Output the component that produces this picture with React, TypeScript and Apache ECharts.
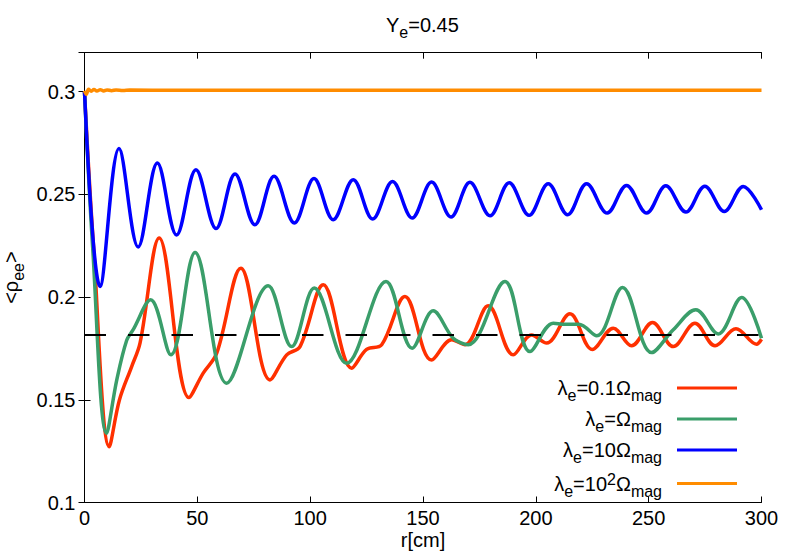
import React, { useEffect, useRef } from 'react';
import * as echarts from 'echarts';

// r [cm], <rho_ee>
const redData: number[][] = [
  [0, 0.3], [4, 0.225], [11, 0.1272], [15.5, 0.15], [20.9, 0.1662], [24.6, 0.1776],
  [33.1, 0.2288], [46.3, 0.1511], [52.6, 0.163], [58.6, 0.1727], [69.3, 0.2141], [82.2, 0.1597],
  [89.6, 0.1719], [95.5, 0.1759], [105.8, 0.206], [118.4, 0.1654], [125, 0.1745], [131.7, 0.1768],
  [142.0, 0.2003], [153.8, 0.1694], [162.7, 0.1792], [168.6, 0.1768], [178.9, 0.1958], [190.0, 0.1719],
  [198.1, 0.1816], [204.8, 0.1776], [215.1, 0.1919], [225.0, 0.1745], [234.3, 0.1849], [242.4, 0.1763],
  [251.7, 0.1876], [260.9, 0.1759], [270.5, 0.1873], [279.4, 0.1763], [288.7, 0.1846], [297.8, 0.1771],
  [300, 0.1795],
];
const greenData: number[][] = [
  [0, 0.3], [3.6, 0.2245], [9.8, 0.1337], [14.3, 0.1597], [18.7, 0.179], [21.5, 0.184], [29.3, 0.1987],
  [38.3, 0.1719], [49.0, 0.2217], [63.0, 0.1581], [81.4, 0.2055], [91.8, 0.1759], [101.8, 0.2044],
  [116.2, 0.1678], [133.6, 0.2076], [145.2, 0.1751], [154.5, 0.1933], [163.4, 0.18], [170.0, 0.1768],
  [186.3, 0.2076], [197.4, 0.1735], [207.7, 0.1873], [213, 0.1868], [219, 0.1868], [227, 0.1812],
  [238.4, 0.2047], [251.3, 0.173], [260.9, 0.1841], [270.9, 0.1938], [280.8, 0.1821], [291.2, 0.1998],
  [300, 0.18],
];
const blueData: number[][] = [
  [0, 0.3], [6.9, 0.2052], [15.3, 0.2723], [23.8, 0.2244], [32.3, 0.2653], [40.8, 0.2302], [49.4, 0.262],
  [58.3, 0.2334], [66.7, 0.26], [75.5, 0.2352], [84.0, 0.2588], [93.0, 0.2361], [101.7, 0.2577],
  [110.2, 0.2377], [119.1, 0.2572], [127.7, 0.238], [136.5, 0.2563], [145.2, 0.2385], [153.8, 0.256],
  [162.4, 0.239], [170.8, 0.2559], [179.7, 0.2396], [188.2, 0.2557], [197.0, 0.2398], [205.5, 0.2552],
  [214.1, 0.2401], [222.5, 0.2552], [231.6, 0.2409], [240.2, 0.2544], [249.1, 0.2409], [257.6, 0.2542],
  [266.5, 0.2414], [274.9, 0.254], [283.5, 0.2417], [291.9, 0.2539], [300, 0.2425],
];
const orangeData: number[][] = [
  [0, 0.3005], [0.8, 0.2988], [1.8, 0.3012], [3, 0.3002], [4.2, 0.3011], [5.5, 0.3003], [7, 0.301],
  [8.5, 0.3004], [10, 0.3009], [12, 0.3005], [14, 0.3009], [17, 0.3006], [20, 0.3008],
  [40, 0.3007], [300, 0.3007],
];
const refLevel = 0.1815;
const refData: number[][] = [[0, refLevel], [300, refLevel]];

const seriesNames = ['lam01', 'lam1', 'lam10', 'lam100'];
const legendLabels: Record<string, string> = {
  lam01: '{n|λ}{s|e}{n|=0.1Ω}{s|mag}',
  lam1: '{n|λ}{s|e}{n|=Ω}{s|mag}',
  lam10: '{n|λ}{s|e}{n|=10Ω}{s|mag}',
  lam100: '{n|λ}{s|e}{n|=10}{p|2}{n|Ω}{s|mag}',
};
const seriesColors = ['#ff3000', '#3a9e6a', '#0000ff', '#ff8c00'];

const xMin = 0, xMax = 300, xInterval = 50;
const yMin = 0.1, yMax = 0.319, yInterval = 0.05;

const FONT = 'Liberation Sans, Arial, Helvetica, sans-serif';

const rich = {
  n: { fontSize: 20, fontFamily: FONT, color: '#000' },
  s: { fontSize: 16, fontFamily: FONT, color: '#000', padding: [15, 0, 0, 0] },
  p: { fontSize: 16, fontFamily: FONT, color: '#000', padding: [0, 0, 9, 0] },
};

export default function App() {
  const ref = useRef<HTMLDivElement>(null);
  useEffect(() => {
    if (!ref.current) return;
    const chart = echarts.init(ref.current, undefined, { renderer: 'svg' });
    const yLabel = (v: number) => {
      const k = v / yInterval;
      return Math.abs(k - Math.round(k)) < 1e-6 ? String(+v.toFixed(2)) : '';
    };
    const axisLine = { show: true, lineStyle: { color: '#000', width: 1 } };
    const axisTick = { show: true, inside: true, length: 6, lineStyle: { color: '#000' } };
    const labelStyle = { fontSize: 20, fontFamily: FONT, color: '#000', lineHeight: 20 };
    const mk = (data: number[][], i: number) => ({
      type: 'line',
      name: seriesNames[i],
      data,
      smooth: 0.36,
      symbol: 'none',
      showSymbol: false,
      lineStyle: { color: seriesColors[i], width: 3.5 },
      itemStyle: { color: seriesColors[i] },
      xAxisIndex: 0,
      yAxisIndex: 0,
      z: 2 + i,
    });
    chart.setOption({
      animation: false,
      backgroundColor: '#fff',
      title: {
        text: '{n|Y}{s|e}{n|=0.45}',
        left: 381,
        top: 4,
        textStyle: { rich, fontWeight: 'normal' },
      },
      grid: {
        left: 84.5, right: 27.5, top: 52.7, bottom: 49.5,
        containLabel: false, outerBoundsMode: 'none',
      },
      xAxis: [
        {
          type: 'value', min: xMin, max: xMax, interval: xInterval, position: 'bottom',
          axisLine, axisTick, splitLine: { show: false },
          axisLabel: { ...labelStyle, margin: 5 },
          name: 'r[cm]', nameLocation: 'middle', nameGap: 27, nameMoveOverlap: false,
          nameTextStyle: { ...labelStyle },
        },
        {
          type: 'value', min: xMin, max: xMax, interval: xInterval, position: 'top',
          axisLine, axisTick, splitLine: { show: false }, axisLabel: { show: false },
        },
      ],
      yAxis: [
        {
          type: 'value', min: yMin, max: yMax, interval: yInterval, position: 'left',
          axisLine, axisTick, splitLine: { show: false },
          axisLabel: { ...labelStyle, margin: 9, formatter: yLabel },
          name: '{n|<ρ}{s|ee}{n|>}', nameLocation: 'middle', nameGap: 58, nameRotate: 90,
          nameMoveOverlap: false,
          nameTextStyle: { rich },
        },
        {
          type: 'value', min: yMin, max: yMax, interval: yInterval, position: 'right',
          axisLine, axisTick, splitLine: { show: false }, axisLabel: { show: false },
        },
      ],
      legend: {
        data: seriesNames,
        orient: 'vertical',
        align: 'right',
        right: 47,
        top: 373,
        itemWidth: 60,
        itemHeight: 3,
        itemGap: 5.5,
        icon: 'rect',
        formatter: (name: string) => legendLabels[name],
        textStyle: { rich, padding: [0, 10, 0, 0] },
      },
      series: [
        mk(redData, 0),
        mk(greenData, 1),
        mk(blueData, 2),
        mk(orangeData, 3),
        {
          type: 'line', name: 'ref', data: refData, symbol: 'none', showSymbol: false,
          lineStyle: { color: '#000', width: 2, type: [21.5, 22] }, z: 10,
          xAxisIndex: 0, yAxisIndex: 0,
        },
      ],
    });
    return () => chart.dispose();
  }, []);
  return <div ref={ref} style={{ position: 'fixed', left: 0, top: 0, width: 789, height: 552 }} />;
}
